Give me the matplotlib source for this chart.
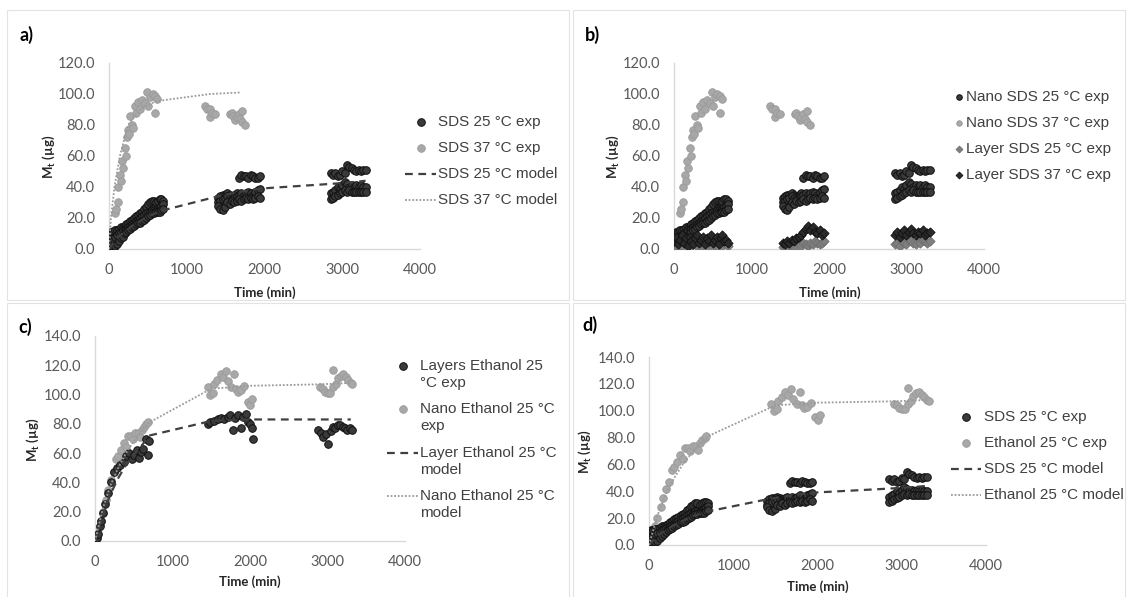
import matplotlib
matplotlib.use("Agg")
import matplotlib.pyplot as plt
from matplotlib.lines import Line2D
from matplotlib.patches import Rectangle

# ---------------- data ----------------
# time grids of the three sampling blocks (min)
t_blk1 = [0, 25, 50, 75, 100, 125, 150, 175, 200, 225, 250, 275, 300, 325, 350,
          375, 400, 425, 450, 475, 500, 525, 550, 575, 600, 625, 650, 675, 700]
t_blk2 = [1400, 1430, 1460, 1490, 1520, 1550, 1580, 1610, 1640, 1670, 1700, 1730,
          1760, 1790, 1820, 1850, 1880, 1910, 1940]
t_blk3 = [2850, 2880, 2910, 2940, 2970, 3000, 3030, 3060, 3090, 3120, 3150, 3180,
          3210, 3240, 3270, 3300]

# SDS 25 C (nano) - three replicates
sds25_r1 = [10, 11, 11, 12, 12, 13, 14, 14, 15, 16, 17, 18, 19, 20, 21, 22, 23, 24, 26, 27, 29, 30, 31, 31, 30, 31, 32, 32, 31,
            33, 34, 35, 35, 36, 35, 34, 35, 36, 46, 48, 47, 47, 46, 48, 47, 46, 46, 47,
            49, 48, 49, 47, 48, 50, 49, 54, 53, 52, 51, 50, 51, 50, 51, 51]
sds25_r2 = [4, 6, 7, 8, 9, 10, 11, 12, 13, 13, 14, 15, 16, 17, 18, 19, 20, 21, 22, 23, 24, 24, 25, 25, 25, 26, 27, 28, 29,
            30, 31, 32, 33, 34, 33, 32, 33, 34, 35, 36, 35, 36, 37, 36, 35, 37, 38, 39,
            36, 37, 38, 40, 39, 41, 43, 42, 40, 41, 40, 41, 40, 41, 40, 40]
sds25_r3 = [0, 1, 2, 2, 3, 5, 7, 8, 10, 11, 12, 13, 14, 15, 16, 17, 17, 18, 19, 20, 21, 22, 23, 23, 24, 24, 24, 25, 26,
            28, 26, 25, 27, 30, 29, 31, 30, 31, 32, 31, 32, 33, 32, 33, 32, 33, 34, 33,
            32, 33, 34, 35, 36, 37, 38, 37, 38, 37, 37, 37, 37, 37, 37, 37]

# SDS 37 C (nano)
t_sds37 = [0, 25, 50, 60, 77, 90, 116, 116, 141, 150, 167, 180, 206, 220, 231, 244, 260,
           270, 296, 310, 334, 350, 373, 400, 430, 460, 489, 502, 527, 560, 592, 592, 620,
           1235, 1260, 1300, 1300, 1330, 1365, 1560, 1580, 1600, 1620, 1645, 1670, 1690,
           1710, 1710, 1750]
sds37 = [2, 5, 8, 12, 23, 26, 30, 40, 48, 44, 57, 52, 65, 60, 72, 77, 74,
         86, 80, 78, 92, 88, 95, 90, 96, 94, 101, 92, 98, 100, 99, 88, 97,
         92, 90, 90, 85, 88, 87, 87, 88, 86, 83, 85, 87, 84, 89, 82, 80]

# layered SDS (panel b)
layer_sds37 = [5, 8, 3, 6, 9, 4, 7, 2, 8, 5, 3, 7, 9, 4, 6, 8, 3, 7, 5, 9, 4, 6, 8, 3, 7, 9, 5, 6, 4,
               4, 3, 5, 4, 6, 5, 7, 8, 9, 11, 13, 15, 12, 14, 11, 10, 12, 9, 10,
               9, 11, 8, 10, 12, 9, 11, 13, 10, 9, 11, 10, 12, 9, 10, 11]
layer_sds25 = [1, 3, 2, 4, 2, 5, 3, 1, 4, 2, 5, 3, 2, 4, 1, 3, 5, 2, 4, 3, 1, 4, 2, 5, 3, 2, 4, 3, 2,
               1, 2, 1, 3, 2, 1, 2, 3, 2, 4, 3, 2, 4, 3, 5, 4, 3, 4, 5,
               3, 4, 2, 5, 4, 3, 6, 5, 4, 3, 5, 4, 6, 5, 4, 5]

# Ethanol 25 C, nano
t_eth_nano = [0, 13, 40, 77, 100, 141, 170, 206, 240, 270, 300, 330, 373, 400, 430, 463,
              490, 520, 553, 580, 610, 630, 660, 682,
              1453, 1480, 1517, 1530, 1580, 1620, 1650, 1685, 1710, 1760, 1788, 1820,
              1840, 1878, 1920, 1968, 2000, 2032,
              2907, 2940, 2971, 3000, 3035, 3074, 3074, 3110, 3138, 3170, 3203, 3235,
              3267, 3300, 3318]
eth_nano = [0, 2, 8, 14, 20, 28, 35, 42, 47, 56, 58, 62, 67, 64, 72, 72,
            70, 74, 74, 71, 76, 78, 80, 81,
            105, 100, 101, 107, 110, 114, 112, 116, 109, 105, 114, 104,
            102, 103, 106, 95, 93, 97,
            105, 104, 102, 101, 101, 117, 105, 107, 111, 113, 114, 112,
            110, 108, 107]

# Ethanol 25 C, layers
t_eth_layer = [0, 20, 38, 60, 80, 103, 130, 167, 200, 244, 280, 320, 373, 400, 440, 480,
               502, 540, 570, 592, 620, 656, 682, 700,
               1453, 1490, 1530, 1582, 1620, 1660, 1710, 1740, 1775, 1810, 1840, 1878,
               1910, 1942, 1968, 2000, 2032, 2045,
               2881, 2910, 2945, 2980, 3010, 3040, 3074, 3100, 3130, 3164, 3200, 3230,
               3254, 3290, 3318]
eth_layer = [0, 2, 5, 10, 14, 19, 25, 33, 40, 47, 50, 52, 54, 58, 60, 56,
             59, 62, 57, 61, 63, 70, 59, 68,
             80, 81, 82, 83, 84, 83, 85, 86, 76, 84, 86, 77,
             85, 87, 81, 80, 77, 70,
             76, 74, 71, 73, 66, 75, 78, 77, 79, 79, 78, 77,
             76, 77, 76]

# model curves
t_m_sds25 = [0, 100, 200, 300, 400, 500, 600, 700, 1400, 1700, 1950, 2850, 3100, 3300]
m_sds25 = [0, 7, 11, 15, 18, 21, 23, 25, 34, 37, 39, 42, 43, 44]
t_m_sds37 = [0, 25, 70, 140, 245, 400, 590, 700, 1000, 1300, 1700]
m_sds37 = [0, 20, 40, 60, 80, 90, 95, 96, 98, 100, 101]
t_m_eth = [0, 100, 200, 300, 400, 500, 600, 700, 1500, 2000, 2900, 3300]
m_eth_layer = [0, 18, 32, 43, 52, 59, 65, 72, 82, 83, 83, 83]
m_eth_nano = [0, 22, 38, 50, 60, 68, 75, 81, 104, 106, 107, 108]

t_sds = t_blk1 + t_blk2 + t_blk3

# ---------------- styling ----------------
W, H = 1130, 597
TICK_FONT = "Lato"
LEG_FONT = "Liberation Sans"
BLACK = dict(marker="o", s=30, facecolors="#3a3a3a", edgecolors="#111111", linewidths=0.7)
GREY = dict(marker="o", s=30, facecolors="#a8a8a8", edgecolors="#9a9a9a", linewidths=0.6)
DASH = dict(color="#404040", lw=1.6, ls=(0, (3.5, 2.5)))
DOT = dict(color="#9a9a9a", lw=1.3, ls=(0, (1, 1)))


def px(x, y):
    return x / W, 1 - y / H


def make_axes(fig, left, right, top, bottom, ymax):
    ax = fig.add_axes([left / W, 1 - bottom / H, (right - left) / W, (bottom - top) / H])
    ax.set_xlim(0, 4000)
    ax.set_ylim(0, ymax)
    ax.set_xticks(range(0, 4001, 1000))
    ax.set_yticks(range(0, ymax + 1, 20))
    ax.set_yticklabels(["%.1f" % v for v in range(0, ymax + 1, 20)])
    for s in ["top", "right"]:
        ax.spines[s].set_visible(False)
    for s in ["left", "bottom"]:
        ax.spines[s].set_color("#d9d9d9")
        ax.spines[s].set_linewidth(1.0)
    ax.tick_params(length=0, pad=10, labelsize=10.5, labelcolor="#595959")
    for lab in ax.get_xticklabels() + ax.get_yticklabels():
        lab.set_fontfamily(TICK_FONT)
    ax.patch.set_alpha(0)
    return ax


def labels(fig, tag, tag_xy, ylab_xy, xlab_xy):
    fig.text(*px(*tag_xy), tag, fontsize=13, fontweight="bold", family=TICK_FONT,
             ha="left", va="center")
    fig.text(*px(*ylab_xy), r"M$_\mathregular{t}$ (µg)", fontsize=9.5, fontweight="bold",
             family=TICK_FONT, rotation=90, ha="center", va="center", color="#262626")
    fig.text(*px(*xlab_xy), "Time (min)", fontsize=9.5, fontweight="bold",
             family=TICK_FONT, ha="center", va="center", color="#262626")


def legend(fig, rows, x0, x1, xt, ys, line_gap=17):
    # rows: (kind, style, text); kind 'm' marker, 'l' line
    for (kind, st, txt), y in zip(rows, ys):
        yf = 1 - y / H
        if kind == "l":
            fig.add_artist(Line2D([x0 / W, x1 / W], [yf, yf], transform=fig.transFigure, **st))
        else:
            xm = (x0 + x1) / 2
            fig.add_artist(Line2D([xm / W], [yf], transform=fig.transFigure, ls="none", **st))
        for k, part in enumerate(txt.split("\n")):
            fig.text(xt / W, 1 - (y + k * line_gap) / H, part, fontsize=11,
                     family=LEG_FONT, color="#404040", ha="left", va="center")


fig = plt.figure(figsize=(W / 100, H / 100), dpi=100)

# panel frames
for (x, y, w, h) in [(7, 10, 562, 290), (573, 10, 552, 290), (7, 303, 562, 300), (573, 303, 552, 300)]:
    fig.add_artist(Rectangle((x / W, 1 - (y + h) / H), w / W, h / H, transform=fig.transFigure,
                             fill=False, ec="#e3e3e3", lw=0.8))

M_BLACK = dict(marker="o", ms=5.5, mfc="#3a3a3a", mec="#111111", mew=0.7)
M_GREY = dict(marker="o", ms=5.5, mfc="#a8a8a8", mec="#9a9a9a", mew=0.6)
D_GREY = dict(marker="D", ms=4.5, mfc="#7f7f7f", mec="#6f6f6f", mew=0.6)
D_BLACK = dict(marker="D", ms=4.5, mfc="#2a2a2a", mec="#111111", mew=0.6)

# ---- a) ----
ax = make_axes(fig, 109, 420, 63, 249, 120)
for rep in (sds25_r1, sds25_r2, sds25_r3):
    ax.scatter(t_sds, rep, zorder=3, **BLACK)
ax.scatter(t_sds37, sds37, zorder=2, **GREY)
ax.plot(t_m_sds25, m_sds25, zorder=4, **DASH)
ax.plot(t_m_sds37, m_sds37, zorder=4, **DOT)
labels(fig, "a)", (19, 35), (49, 157), (265, 293))
legend(fig, [("m", M_BLACK, "SDS 25 °C exp"), ("m", M_GREY, "SDS 37 °C exp"),
             ("l", DASH, "SDS 25 °C model"), ("l", DOT, "SDS 37 °C model")],
       405, 436, 438, [122, 148, 174, 200])

# ---- b) ----
ax = make_axes(fig, 674, 984, 63, 249, 120)
for rep in (sds25_r1, sds25_r2, sds25_r3):
    ax.scatter(t_sds, rep, zorder=3, **BLACK)
ax.scatter(t_sds37, sds37, zorder=2, **GREY)
ax.scatter(t_sds, layer_sds25, marker="D", s=22, facecolors="#7f7f7f", edgecolors="#6f6f6f",
           linewidths=0.6, zorder=3)
ax.scatter(t_sds, layer_sds37, marker="D", s=22, facecolors="#2a2a2a", edgecolors="#111111",
           linewidths=0.6, zorder=4)
labels(fig, "b)", (585, 35), (613, 157), (830, 293))
legend(fig, [("m", dict(M_BLACK, ms=4), "Nano SDS 25 °C exp"),
             ("m", dict(M_GREY, ms=4), "Nano SDS 37 °C exp"),
             ("m", dict(D_GREY, ms=3.5), "Layer SDS 25 °C exp"),
             ("m", dict(D_BLACK, ms=3.5), "Layer SDS 37 °C exp")],
       954, 964, 966, [97, 123, 149, 175])

# ---- c) ----
ax = make_axes(fig, 95, 405, 336, 541, 140)
ax.scatter(t_eth_layer, eth_layer, zorder=3, **BLACK)
ax.scatter(t_eth_nano, eth_nano, zorder=2, **GREY)
ax.plot(t_m_eth, m_eth_layer, zorder=4, **DASH)
ax.plot(t_m_eth, m_eth_nano, zorder=4, **DOT)
labels(fig, "c)", (18, 327), (33, 440), (250, 582))
legend(fig, [("m", M_BLACK, "Layers Ethanol 25\n°C exp"),
             ("m", M_GREY, "Nano Ethanol 25 °C\nexp"),
             ("l", DASH, "Layer Ethanol 25 °C\nmodel"),
             ("l", DOT, "Nano Ethanol 25 °C\nmodel")],
       387, 418, 420, [366, 409, 453, 496])

# ---- d) ----
ax = make_axes(fig, 649, 986, 357, 545, 140)
for rep in (sds25_r1, sds25_r2, sds25_r3):
    ax.scatter(t_sds, rep, zorder=3, **BLACK)
ax.scatter(t_eth_nano, eth_nano, zorder=2, **GREY)
ax.plot(t_m_sds25, m_sds25, zorder=4, **DASH)
ax.plot(t_m_eth, m_eth_nano, zorder=4, **DOT)
labels(fig, "d)", (582, 325), (585, 452), (818, 587))
legend(fig, [("m", M_BLACK, "SDS 25 °C exp"), ("m", M_GREY, "Ethanol 25 °C exp"),
             ("l", DASH, "SDS 25 °C model"), ("l", DOT, "Ethanol 25 °C model")],
       951, 981, 984, [417, 443, 469, 495])

fig.savefig("out.png", dpi=100, facecolor="white")
